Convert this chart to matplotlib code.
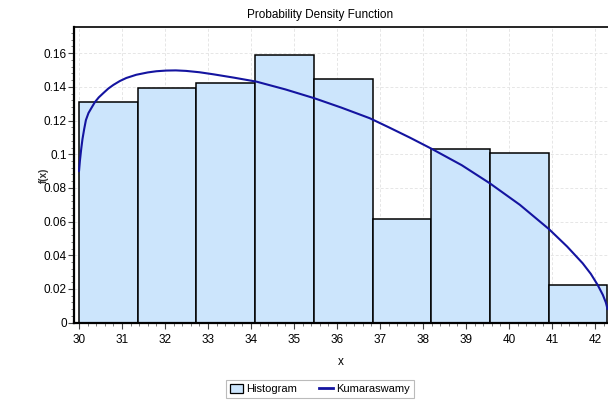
import matplotlib
matplotlib.use("Agg")
import matplotlib.pyplot as plt
from matplotlib.ticker import MultipleLocator, FuncFormatter
from matplotlib.patches import Patch
from matplotlib.lines import Line2D

plt.rcParams['font.family'] = ['Liberation Sans', 'DejaVu Sans']

# Histogram data
bin_edges = [30.0, 31.365, 32.73, 34.095, 35.46, 36.825, 38.19, 39.555, 40.92, 42.286]
bin_heights = [0.1309, 0.1395, 0.1425, 0.1588, 0.1449, 0.0616, 0.1031, 0.1006, 0.0226]

# Kumaraswamy curve
curve_x = [30.0, 30.02, 30.05, 30.08, 30.12, 30.16, 30.22, 30.3, 30.37, 30.46, 30.56,
           30.68, 30.8, 30.95, 31.1, 31.33, 31.6, 31.8, 32.03, 32.25, 32.49, 32.8,
           33.12, 33.6, 34.13, 34.8, 35.48, 36.1, 36.76, 37.22, 37.7, 38.21, 38.9,
           39.55, 40.25, 40.93, 41.35, 41.71, 41.9, 42.06, 42.18, 42.25, 42.29]
curve_y = [0.090, 0.096, 0.103, 0.109, 0.115, 0.1203, 0.1245, 0.128, 0.131, 0.1338, 0.1362,
           0.1390, 0.1412, 0.1435, 0.1453, 0.1472, 0.1486, 0.1493, 0.1497, 0.1498, 0.1495, 0.1487,
           0.1475, 0.1455, 0.1431, 0.1385, 0.1332, 0.1277, 0.1214, 0.1158, 0.1098, 0.1031, 0.0935,
           0.0828, 0.0700, 0.0555, 0.0452, 0.0353, 0.0290, 0.0224, 0.0165, 0.0120, 0.0080]

x_ticks = list(range(30, 43))
y_ticks = [0, 0.02, 0.04, 0.06, 0.08, 0.1, 0.12, 0.14, 0.16]

fig = plt.figure(figsize=(6.08, 4.03), dpi=100)
ax = fig.add_axes([0.1222, 0.1993, 0.8778, 0.733])

widths = [b - a for a, b in zip(bin_edges[:-1], bin_edges[1:])]
ax.bar(bin_edges[:-1], bin_heights, width=widths, align='edge',
       color='#cce5fc', edgecolor='black', linewidth=1.1, zorder=2)
ax.plot(curve_x, curve_y, color='#1414a0', linewidth=1.5, zorder=3,
        solid_joinstyle='round', solid_capstyle='round')

ax.set_xlim(29.89, 42.30)
ax.set_ylim(0, 0.1754)
ax.set_xticks(x_ticks)
ax.set_yticks(y_ticks)
ax.xaxis.set_minor_locator(MultipleLocator(0.2))
ax.yaxis.set_minor_locator(MultipleLocator(0.004))
ax.yaxis.set_major_formatter(FuncFormatter(lambda v, p: ('%g' % round(v, 4))))
ax.tick_params(axis='both', which='major', direction='out', length=4, width=0.8,
               labelsize=8.5, pad=1.5, color='#444444')
ax.tick_params(axis='x', which='major', pad=4)
ax.tick_params(axis='both', which='minor', direction='out', length=2, width=0.6, color='#666666')

ax.grid(True, which='major', color='#e6e6e6', linestyle=(0, (3, 2)), linewidth=0.7, zorder=0)
ax.set_axisbelow(True)

for s in ['left', 'bottom']:
    ax.spines[s].set_linewidth(1.6)
    ax.spines[s].set_color('black')
ax.spines['top'].set_linewidth(1.2)
ax.spines['top'].set_color('black')
ax.spines['right'].set_visible(False)

ax.set_xlabel('x', fontsize=8.5, labelpad=7)
fig.text(0.072, 0.566, 'f(x)', rotation=90, fontsize=7, ha='center', va='center',
         fontweight='bold', color='#333333')
fig.text(0.526, 0.962, 'Probability Density Function', fontsize=8.5, ha='center', va='center')

handles = [Patch(facecolor='#cce5fc', edgecolor='black', linewidth=0.9, label='Histogram'),
           Line2D([0], [0], color='#1414a0', linewidth=2, label='Kumaraswamy')]
leg = fig.legend(handles=handles, loc='center', bbox_to_anchor=(0.526, 0.035), ncol=2,
                 fontsize=8, frameon=True, fancybox=False, edgecolor='#aaaaaa',
                 handlelength=1.2, handleheight=1.0, handletextpad=0.3, columnspacing=2.0,
                 borderpad=0.35, borderaxespad=0)
leg.get_frame().set_linewidth(0.8)

fig.savefig('out.png', dpi=100)
